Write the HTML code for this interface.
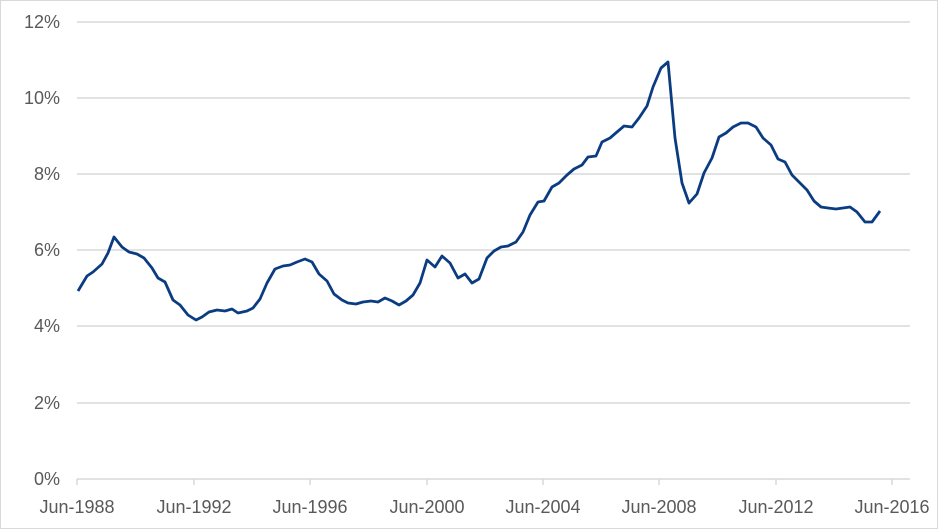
<!DOCTYPE html>
<html><head><meta charset="utf-8"><style>
html,body{margin:0;padding:0;background:#fff}
svg{display:block}
text{font-family:"Liberation Sans",sans-serif;font-size:18px;fill:#595959}
</style></head><body>
<svg width="938" height="529" viewBox="0 0 938 529">
<rect x="0.5" y="0.5" width="937" height="528" fill="#fff" stroke="#d9d9d9"/>
<g stroke="#d9d9d9" stroke-width="1.5">
<line x1="77" y1="22" x2="910" y2="22"/>
<line x1="77" y1="98" x2="910" y2="98"/>
<line x1="77" y1="174" x2="910" y2="174"/>
<line x1="77" y1="250" x2="910" y2="250"/>
<line x1="77" y1="326" x2="910" y2="326"/>
<line x1="77" y1="403" x2="910" y2="403"/>
<line x1="77" y1="479" x2="910" y2="479"/>
<line x1="77" y1="479" x2="77" y2="485"/>
<line x1="194" y1="479" x2="194" y2="485"/>
<line x1="310" y1="479" x2="310" y2="485"/>
<line x1="427" y1="479" x2="427" y2="485"/>
<line x1="543" y1="479" x2="543" y2="485"/>
<line x1="659" y1="479" x2="659" y2="485"/>
<line x1="776" y1="479" x2="776" y2="485"/>
<line x1="892" y1="479" x2="892" y2="485"/>
</g>
<g text-anchor="end">
<text x="60" y="28">12%</text>
<text x="60" y="104">10%</text>
<text x="60" y="180">8%</text>
<text x="60" y="256">6%</text>
<text x="60" y="332">4%</text>
<text x="60" y="409">2%</text>
<text x="60" y="485">0%</text>
</g>
<g text-anchor="middle">
<text x="77" y="513">Jun-1988</text>
<text x="194" y="513">Jun-1992</text>
<text x="310" y="513">Jun-1996</text>
<text x="427" y="513">Jun-2000</text>
<text x="543" y="513">Jun-2004</text>
<text x="659" y="513">Jun-2008</text>
<text x="776" y="513">Jun-2012</text>
<text x="892" y="513">Jun-2016</text>
</g>
<polyline fill="none" stroke="#0b3c82" stroke-width="2.8" stroke-linejoin="round" points="78,291 87,276 93,272 102,264 108,253 114,237 122,247 129,252 137,254 144,258 152,268 158,278 165,282 173,300 180,305 188,315 196,320 202,317 209,312 217,310 225,311 232,309 238,313 247,311 253,308 260,299 267,283 275,269 283,266 290,265 297,262 305,259 312,262 319,274 327,281 334,294 342,300 348,303 356,304 363,302 371,301 378,302 385,298 392,301 399,305 406,301 413,295 420,283 427,260 435,267 442,256 450,263 458,278 465,274 472,283 479,279 487,258 494,251 501,247 508,246 516,242 523,232 530,215 538,202 544,201 552,187 559,183 567,175 574,169 582,165 588,157 596,156 602,142 610,138 617,132 624,126 632,127 639,118 647,106 653,87 661,68 668,62 675,138 682,183 689,203 697,194 704,173 712,158 719,137 726,133 733,127 741,123 748,123 756,127 763,138 771,145 778,159 785,162 792,175 800,183 807,190 814,201 821,207 828,208 836,209 843,208 850,207 857,212 865,222 872,222 880,211"/>
</svg>
</body></html>
